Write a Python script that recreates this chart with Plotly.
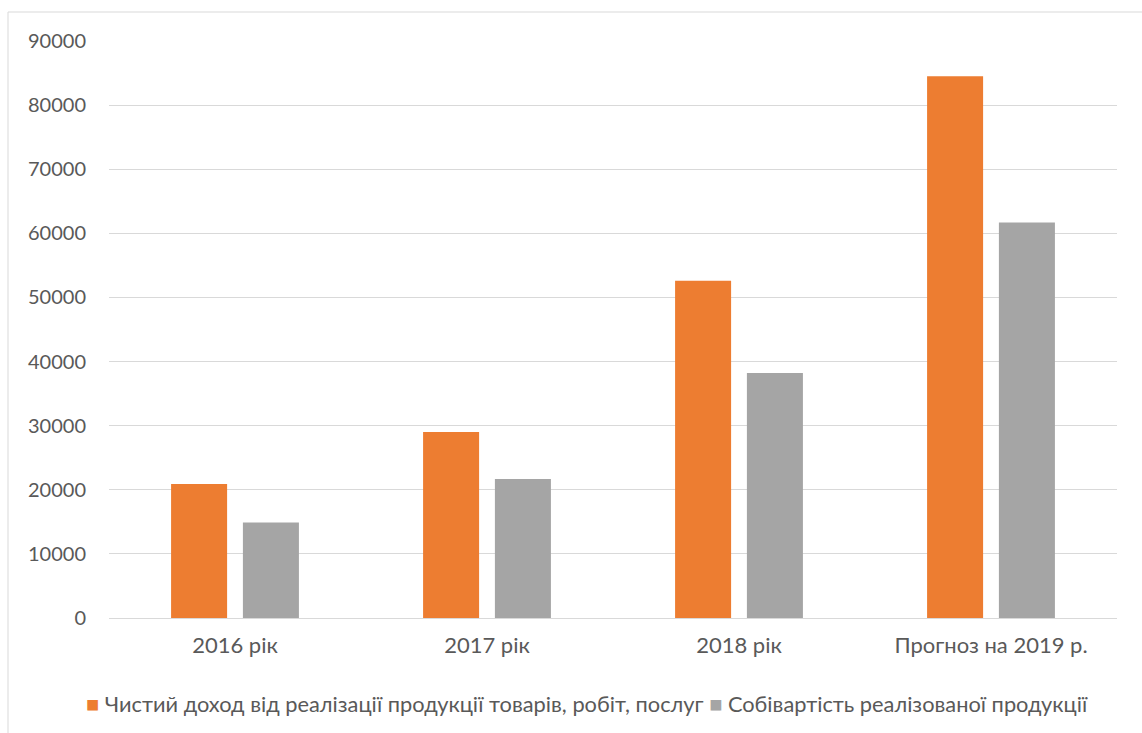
import plotly.graph_objects as go

categories = ["2016 рік", "2017 рік", "2018 рік", "Прогноз на 2019 р."]
revenue = [20900, 29000, 52600, 84500]
cost = [14900, 21700, 38200, 61700]
series_names = [
    "Чистий доход від реалізації продукції товарів, робіт, послуг",
    "Собівартість реалізованої продукції",
]
colors = ["#ED7D31", "#A5A5A5"]
y_ticks = [0, 10000, 20000, 30000, 40000, 50000, 60000, 70000, 80000, 90000]

W, H = 1142, 733
L, R, T, B = 109, 25, 41, 115
pw, ph = W - L - R, H - T - B

FONT = "Lato"
TXT = "#595959"
FS = 22


fig = go.Figure()
for name, vals, col in zip(series_names, [revenue, cost], colors):
    fig.add_trace(go.Bar(x=categories, y=vals, name=name,
                         marker=dict(color=col, line=dict(width=0))))


def px_x(v):
    return (v - L) / pw


def px_y(v):
    return 1 - (v - T) / ph


# outer chart frame
fig.add_shape(type="rect", xref="paper", yref="paper",
              x0=px_x(8), x1=px_x(1160), y0=px_y(12), y1=px_y(760),
              line=dict(color="#D9D9D9", width=1), fillcolor="rgba(0,0,0,0)",
              layer="below")

# legend drawn as a single line: coloured square + series name
legend_html = "".join(
    f'<span style="color:{c}">■</span><span style="color:{TXT}"> {n}</span>'
    + ("&nbsp;" if i == 0 else "")
    for i, (n, c) in enumerate(zip(series_names, colors))
)
fig.add_annotation(xref="paper", yref="paper", x=px_x(587), y=px_y(703),
                   xanchor="center", yanchor="middle", showarrow=False,
                   text=legend_html, font=dict(family=FONT, size=21.8, color=TXT))

fig.update_layout(
    width=W, height=H,
    margin=dict(l=L, r=R, t=T, b=B, autoexpand=False),
    paper_bgcolor="white", plot_bgcolor="white",
    barmode="group", bargap=0.43, bargroupgap=0.22,
    font=dict(family=FONT, size=FS, color=TXT),
    showlegend=False,
    xaxis=dict(showgrid=False, showline=False, zeroline=False,
               ticks="", ticklabelstandoff=12,
               tickfont=dict(size=FS, color=TXT)),
    yaxis=dict(range=[0, 90000], tickvals=y_ticks,
               ticktext=[str(v) for v in y_ticks],
               showgrid=True, gridcolor="#D9D9D9", gridwidth=1,
               zeroline=True, zerolinecolor="#D9D9D9", zerolinewidth=1,
               showline=False, ticks="", ticklabelstandoff=22,
               tickfont=dict(size=20, color=TXT)),
)

fig.write_html("out.html")
